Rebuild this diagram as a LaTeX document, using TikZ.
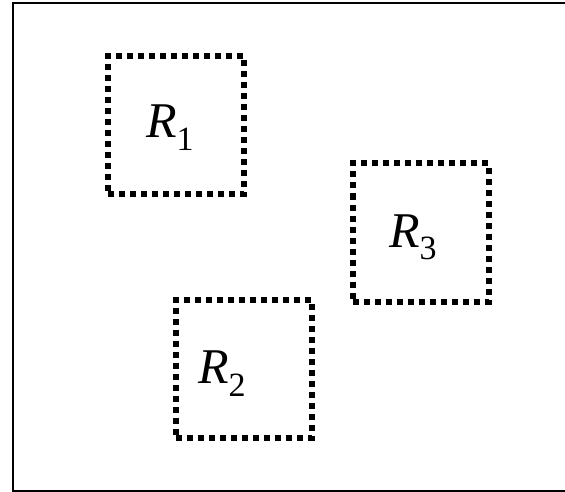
\documentclass[tikz,border=0pt]{standalone}
\usepackage{fontspec}
\setmainfont{Liberation Serif}[ItalicFont={Liberation Serif Italic}]
\newcommand\regsub[1]{\raisebox{-13pt}{\fontsize{34}{34}\selectfont\upshape #1}}
\begin{document}
\begin{tikzpicture}[x=1pt,y=-1pt,
  regionbox/.style={draw=black, line width=6pt, dash pattern=on 6pt off 5pt,
    minimum width=136pt, minimum height=138pt, inner sep=0pt},
  reglabel/.style={anchor=base west, inner sep=0pt,
    font=\fontsize{50}{50}\selectfont\itshape}]
\useasboundingbox (0,0) rectangle (565,492);
\draw[line width=2pt] (568,3.5) -- (12.5,3.5) -- (12.5,490.5) -- (568,490.5);
\node[regionbox] (b1) at (176,125) {};
\node[regionbox] (b3) at (420.5,232.5) {};
\node[regionbox] (b2) at (244,368.5) {};
\node[reglabel] (l1) at (146,138) {R\regsub{1}};
\node[reglabel] (l3) at (389,247) {R\regsub{3}};
\node[reglabel] (l2) at (198,383) {R\regsub{2}};
\end{tikzpicture}
\end{document}
